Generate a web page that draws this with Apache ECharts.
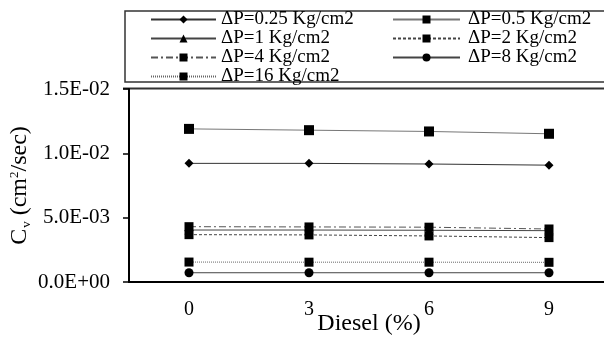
<!DOCTYPE html>
<html>
<head>
<meta charset="utf-8">
<script src="https://cdn.jsdelivr.net/npm/echarts@6/dist/echarts.min.js"></script>
<style>html,body{margin:0;padding:0;background:#fff}#c{width:604px;height:345px}</style>
</head>
<body>
<div id="c"></div>
<script>
const categories = ['0', '3', '6', '9'];
const p025 = [0.00922, 0.00922, 0.00917, 0.00908];
const p05  = [0.01190, 0.01180, 0.01170, 0.01152];
const p1   = [0.00404, 0.00404, 0.00402, 0.00399];
const p2   = [0.00368, 0.00366, 0.00358, 0.00345];
const p4   = [0.00430, 0.00428, 0.00426, 0.00412];
const p8   = [0.00072, 0.00072, 0.00072, 0.00072];
const p16  = [0.00155, 0.00154, 0.00154, 0.00153];
const names = ['ΔP=0.25 Kg/cm2','ΔP=0.5 Kg/cm2','ΔP=1 Kg/cm2','ΔP=2 Kg/cm2','ΔP=4 Kg/cm2','ΔP=8 Kg/cm2','ΔP=16 Kg/cm2'];

const FONT = 'Liberation Serif';
function mk(name, data, symbol, size, type, lineColor) {
  return {
    name, type: 'line', data, symbol, symbolSize: size,
    itemStyle: { color: '#000' },
    lineStyle: { color: lineColor || '#444', width: 1, type: type },
    emphasis: { disabled: true }, animation: false
  };
}
function fmt(v) {
  const parts = v.toExponential(1).split('e');
  const e = parts[1];
  return parts[0] + 'E' + e[0] + e.slice(1).padStart(2, '0');
}
const chart = echarts.init(document.getElementById('c'), null, { renderer: 'canvas' });
chart.setOption({
  backgroundColor: '#fff',
  animation: false,
  textStyle: { fontFamily: FONT },
  graphic: [
    { type: 'rect', shape: { x: 125, y: 11, width: 500, height: 71 }, style: { fill: 'none', stroke: '#333', lineWidth: 1.5 }, z: 0 },
    { type: 'line', shape: { x1: 123, y1: 88.5, x2: 610, y2: 88.5 }, style: { stroke: '#333', lineWidth: 2 }, z: 0 }
  ],
  legend: [
    {
      data: [names[0], names[2], names[4], names[6]],
      orient: 'vertical', left: 150, top: 10, padding: 0, itemGap: 0,
      itemWidth: 65, itemHeight: 10,
      textStyle: { fontFamily: FONT, fontSize: 19, color: '#000', lineHeight: 18.7 }
    },
    {
      data: [names[1], names[3], names[5]],
      orient: 'vertical', left: 392, top: 10, padding: 0, itemGap: 0,
      itemWidth: 67, itemHeight: 10,
      textStyle: { fontFamily: FONT, fontSize: 19, color: '#000', lineHeight: 18.7, padding: [0, 0, 0, 3] }
    }
  ],
  grid: { left: 129, right: -5, top: 89, bottom: 63, containLabel: false, outerBoundsMode: 'none' },
  xAxis: {
    type: 'category', data: categories, boundaryGap: true,
    axisLine: { lineStyle: { color: '#000', width: 2 } },
    axisTick: { show: false },
    axisLabel: { color: '#000', fontSize: 20, fontFamily: FONT, margin: 18 },
    name: 'Diesel (%)', nameLocation: 'middle', nameGap: 30, nameMoveOverlap: false,
    nameTextStyle: { color: '#000', fontSize: 24, fontFamily: FONT }
  },
  yAxis: {
    type: 'value', min: 0, max: 0.015, interval: 0.005,
    axisLine: { show: true, onZero: false, lineStyle: { color: '#000', width: 2 } },
    axisTick: { show: true, length: 6, lineStyle: { color: '#000', width: 1.5 } },
    splitLine: { show: false },
    axisLabel: { color: '#000', fontSize: 21, fontFamily: FONT, margin: 19, formatter: fmt },
    name: '{m|C}{sub|v}{m| (cm}{sup|2}{m|/sec)}', nameLocation: 'middle', nameGap: 95, nameMoveOverlap: false,
    nameTextStyle: {
      color: '#000', fontFamily: FONT,
      rich: {
        m: { fontSize: 24, fontFamily: FONT, color: '#000', lineHeight: 28 },
        sub: { fontSize: 13, fontFamily: FONT, color: '#000', lineHeight: 28, padding: [13, 0, 0, 1] },
        sup: { fontSize: 13, fontFamily: FONT, color: '#000', lineHeight: 28, padding: [0, 0, 11, 0] }
      }
    }
  },
  series: [
    mk(names[0], p025, 'diamond', 9, 'solid', '#333'),
    mk(names[1], p05, 'rect', 10, 'solid', '#777'),
    mk(names[2], p1, 'triangle', 9, 'solid', '#444'),
    mk(names[3], p2, 'rect', 9, [3, 2], '#444'),
    mk(names[4], p4, 'rect', 9, [7, 3, 2, 3], '#555'),
    mk(names[5], p8, 'circle', 9, 'solid', '#444'),
    mk(names[6], p16, 'rect', 9, [1, 1], '#666')
  ]
});
</script>
</body>
</html>
